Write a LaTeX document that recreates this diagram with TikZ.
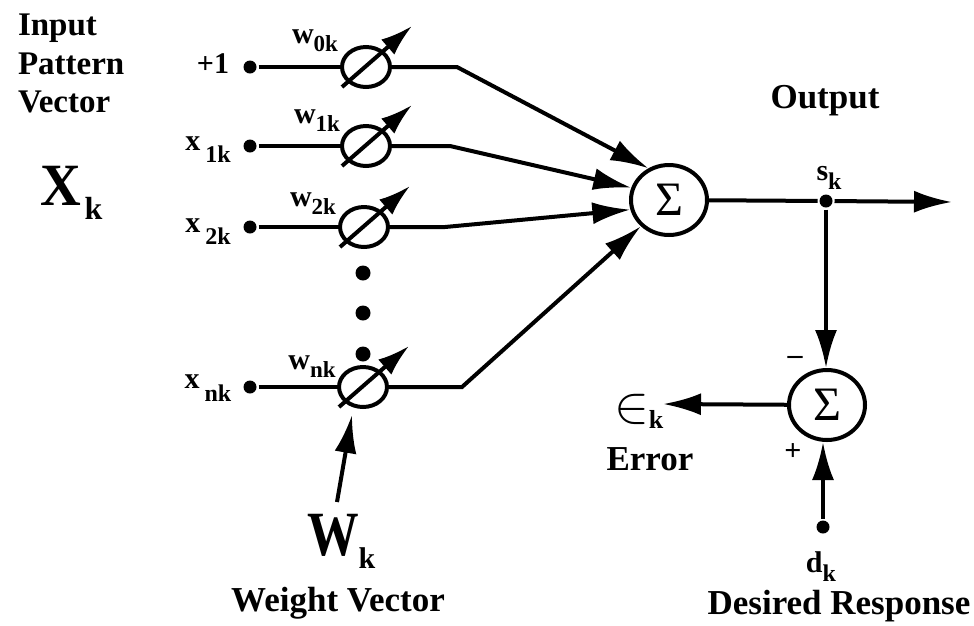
\documentclass[tikz,border=0pt]{standalone}
\usepackage{fontspec}
\setmainfont{Liberation Serif}
\usetikzlibrary{arrows.meta,shapes.geometric}
\newcommand{\subtxt}[3]{\raisebox{-#1pt}{\fontsize{#2}{#2}\selectfont #3}}
\tikzset{%
  >={Latex[width=22pt,length=38pt]},
  % Specifications for style of nodes:
  base/.style = {
    inner sep=0pt,
    outer sep=0pt,
    text centered,
    font=\fontsize{35}{36}\selectfont\bfseries
  },
  small/.style = {base, font=\fontsize{30}{33}\selectfont\bfseries},
  big/.style = {base, font=\fontsize{60}{62}\selectfont\bfseries},
  pattern/.style = {base, anchor=base west, font=\fontsize{33}{34}\selectfont\bfseries},
  terminal/.style = {circle, fill=black, minimum size=13pt, inner sep=0pt},
  bigdot/.style = {circle, fill=black, minimum size=15pt, inner sep=0pt},
  weight/.style = {ellipse, draw=black, minimum width=48pt, minimum height=40pt, inner sep=0pt},
  summer/.style = {ellipse, draw=black, minimum width=76pt, minimum height=70pt, inner sep=0pt,
    font=\fontsize{48}{48}\selectfont},
  dial/.style = {->, >={Latex[width=20pt,length=32pt]}},
}

\begin{document}
\begin{tikzpicture}[
  x=1pt,
  y=-1pt,
  line width=4pt,
  node distance=40pt,
  ]
  \useasboundingbox (0,0) rectangle (974,625);
  % nodes
  \node (w0) [weight] at (366,67) {};
  \node (w1) [weight, below of=w0, yshift=-39pt] {};
  \node (w2) [weight, below of=w1, xshift=-2pt, yshift=-41pt] {};
  \node (wn) [weight, below of=w2, xshift=-1pt, yshift=-120pt] {};
  \node (in0) [terminal, left of=w0, xshift=-76pt] {};
  \node (in1) [terminal, left of=w1, xshift=-76pt] {};
  \node (in2) [terminal, left of=w2, xshift=-74pt] {};
  \node (inn) [terminal, left of=wn, xshift=-73pt] {};
  \node (dot1) [bigdot] at (363,273) {};
  \node (dot2) [bigdot, below of=dot1] {};
  \node (dot3) [bigdot, below of=dot2, yshift=-1pt] {};
  \node (sum1) [summer] at (669,200) {Σ};
  \node (sum2) [summer, below of=sum1, xshift=158pt, yshift=-165pt] {Σ};
  \node (out) [terminal] at (826,201) {};
  \node (des) [terminal, below of=sum2, xshift=-4pt, yshift=-82pt] {};
  \coordinate (bend0) at (457,67);
  \coordinate (bend1) at (450,146);
  \coordinate (bend2) at (445,227);
  \coordinate (bendn) at (462,387);
  \coordinate (outend) at (952,202);
  \coordinate (errend) at (663,404);
  \coordinate (wktail) at (337,502);
  \coordinate (wktip) at (352,415);
  % labels
  \node (lb_input) [pattern] at (18,35) {Input};
  \node (lb_pattern) [pattern] at (18,74) {Pattern};
  \node (lb_vector) [pattern] at (18,112) {Vector};
  \node (lb_xk) [big, anchor=base west] at (40,205) {\scalebox{0.94}[1]{X}\kern4pt\subtxt{14}{32}{k}};
  \node (lb_x0) [small, left of=in0, xshift=3pt, yshift=3pt] {+1};
  \node (lb_x1) [small, left of=in1, xshift=-2pt, yshift=-4pt] {x\,\subtxt{12}{24}{1k}};
  \node (lb_x2) [small, left of=in2, xshift=-2pt, yshift=-5pt] {x\,\subtxt{12}{24}{2k}};
  \node (lb_xn) [small, left of=inn, xshift=-2pt, yshift=-1pt] {x\,\subtxt{13}{24}{nk}};
  \node (lb_w0) [small, left of=w0, xshift=-11pt, yshift=26pt] {w\subtxt{8}{23}{0k}};
  \node (lb_w1) [small, left of=w1, xshift=-9pt, yshift=25pt] {w\subtxt{8}{23}{1k}};
  \node (lb_w2) [small, left of=w2, xshift=-11pt, yshift=23pt] {w\subtxt{8}{23}{2k}};
  \node (lb_wn) [small, left of=wn, xshift=-11pt, yshift=20pt] {w\subtxt{8}{23}{nk}};
  \node (lb_wk) [big, anchor=base west] at (307,555) {\scalebox{0.86}[1.05]{W}\subtxt{13}{30}{k}};
  \node (lb_wvec) [base] at (338,603) {Weight Vector};
  \node (lb_out) [base] at (825,101) {Output};
  \node (lb_sk) [small] at (829,178) {s\subtxt{9}{24}{k}};
  \node (lb_minus) [small] at (795,360) {–};
  \node (lb_plus) [small] at (793,452) {+};
  \node (lb_err) [small, anchor=base west] at (614,422) {\scalebox{2.1}{$\in$}\subtxt{6}{26}{k}};
  \node (lb_errtxt) [base] at (650,459) {Error};
  \node (lb_dk) [small] at (821,567) {d\subtxt{9}{24}{k}};
  \node (lb_des) [base] at (839,606) {Desired Response};
  % lines
  \draw (in0) -- (w0);
  \draw (in1) -- (w1);
  \draw (in2) -- (w2);
  \draw (inn) -- (wn);
  \draw[->] (w0) -- (bend0) -- (sum1.123);
  \draw[->] (w1) -- (bend1) -- (sum1.162);
  \draw[->] (w2) -- (bend2) -- (sum1.194);
  \draw[->] (wn) -- (bendn) -- (sum1.223);
  \draw[dial] (w0) ++(-24,20) -- ++(70,-61);
  \draw[dial] (w1) ++(-24,20) -- ++(70,-61);
  \draw[dial] (w2) ++(-24,20) -- ++(70,-61);
  \draw[dial] (wn) ++(-24,20) -- ++(70,-61);
  \draw[->] (sum1) -- (out) -- (outend);
  \draw[->] (out) -- (out |- sum2.north);
  \draw[->] (sum2) -- (errend);
  \draw[->] (des) -- (sum2.south -| des);
  \draw[->] (wktail) -- (wktip);
\end{tikzpicture}
\end{document}
